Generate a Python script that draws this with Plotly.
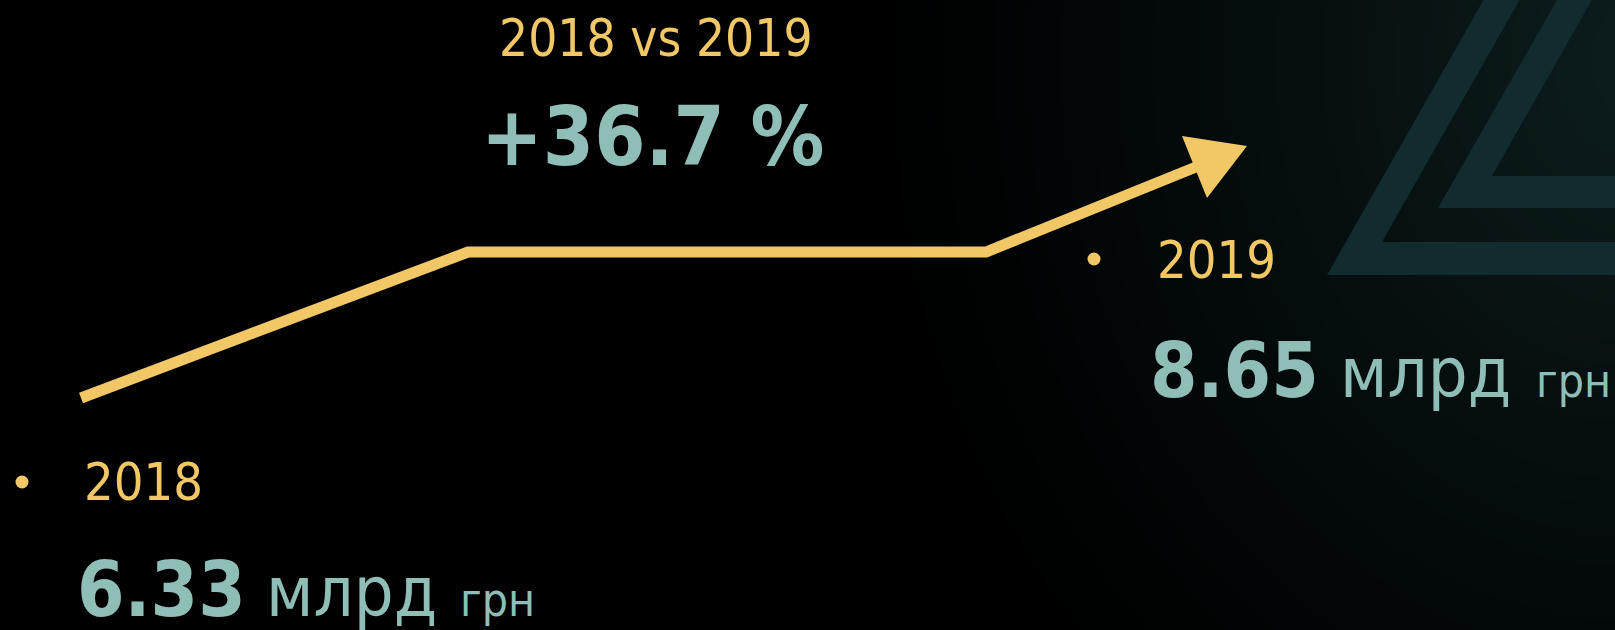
import numpy as np
import plotly.graph_objects as go

# ---- data ----
years = ["2018", "2019"]
values = [6.33, 8.65]
unit = "млрд"
currency = "грн"
change_pct = round((values[1] / values[0] - 1) * 100, 1)

# ---- style ----
W, H = 1615, 630
YELLOW = "#f2c866"
TEAL = "#8fbeb6"
STRIPE = "#112b2e"
FONT = "DejaVu Sans Condensed, DejaVu Sans, sans-serif"
ASC = 0.928

# background radial gradient (decorative)
step = 5
gx = np.arange(step / 2, W, step)
gy = np.arange(step / 2, H, step)
X, Y = np.meshgrid(gx, gy)
d = np.sqrt(((X - 1640) / 1.0) ** 2 + ((Y - 60) / 1.15) ** 2)
f = np.clip(1 - d / 800, 0, 1) ** 1.25
top = np.array([13, 30, 31])
img = (f[..., None] * top[None, None, :]).astype(np.uint8)

fig = go.Figure()
fig.add_trace(go.Image(z=img, x0=step / 2, y0=step / 2, dx=step, dy=step,
                       hoverinfo="skip"))

shapes = []
# decorative triangles
shapes.append(dict(type="path", xref="x", yref="y", layer="above",
                   path="M 1327 275 L 1512 -50 L 1700 -50 L 1700 275 Z "
                        "M 1382 242 L 1700 242 L 1700 -50 L 1548 -50 Z",
                   fillcolor=STRIPE, line=dict(width=0)))
shapes.append(dict(type="path", xref="x", yref="y", layer="above",
                   path="M 1438 208 L 1557 0 L 1566 -16 L 1700 -16 L 1700 208 Z "
                        "M 1492 176 L 1700 176 L 1700 -16 L 1601 -16 Z",
                   fillcolor=STRIPE, line=dict(width=0)))
# arrow line
shapes.append(dict(type="path", xref="x", yref="y", layer="above",
                   path="M 81 398 L 468 252 L 986 252 L 1196 167",
                   line=dict(color=YELLOW, width=11), fillcolor="rgba(0,0,0,0)"))
# arrow head
shapes.append(dict(type="path", xref="x", yref="y", layer="above",
                   path="M 1247 146 L 1182 136 L 1207 198 Z",
                   fillcolor=YELLOW, line=dict(width=0)))
# bullets
for cx, cy in [(22, 482), (1094, 259)]:
    shapes.append(dict(type="circle", xref="x", yref="y", layer="above",
                       x0=cx - 6.5, x1=cx + 6.5, y0=cy - 6.5, y1=cy + 6.5,
                       fillcolor=YELLOW, line=dict(width=0)))

annotations = []


def txt(text, x, baseline, size, color, xanchor="left", bold=False):
    t = f"<b>{text}</b>" if bold else text
    annotations.append(dict(text=t, x=x, y=baseline - ASC * size, xref="x", yref="y",
                            xanchor=xanchor, yanchor="top", showarrow=False,
                            borderpad=0, borderwidth=0,
                            font=dict(family=FONT, size=size, color=color)))


txt(f"{years[0]} vs {years[1]}", 656, 56, 51, YELLOW, xanchor="center")
txt(f"+{change_pct} %", 652, 165, 82, TEAL, xanchor="center", bold=True)

txt(years[0], 84, 500, 52, YELLOW)
txt(f"{values[0]:.2f}", 77, 616, 76, TEAL, bold=True)
txt(unit, 266, 616, 70, TEAL)
txt(currency, 460, 616, 46, TEAL)

txt(years[1], 1157, 278, 52, YELLOW)
txt(f"{values[1]:.2f}", 1150, 397, 76, TEAL, bold=True)
txt(unit, 1340, 397, 70, TEAL)
txt(currency, 1536, 397, 46, TEAL)

fig.update_layout(
    width=W, height=H,
    margin=dict(l=0, r=0, t=0, b=0),
    paper_bgcolor="#000000", plot_bgcolor="#000000",
    xaxis=dict(range=[0, W], visible=False, fixedrange=True, showgrid=False),
    yaxis=dict(range=[H, 0], autorange=False, visible=False, fixedrange=True,
               showgrid=False, scaleanchor=False),
    shapes=shapes, annotations=annotations, showlegend=False,
)
fig.write_html("out.html",
               config={"displayModeBar": False},
               post_script="document.body.style.margin='0';"
                           "document.body.style.overflow='hidden';"
                           "document.body.style.background='#000';")
